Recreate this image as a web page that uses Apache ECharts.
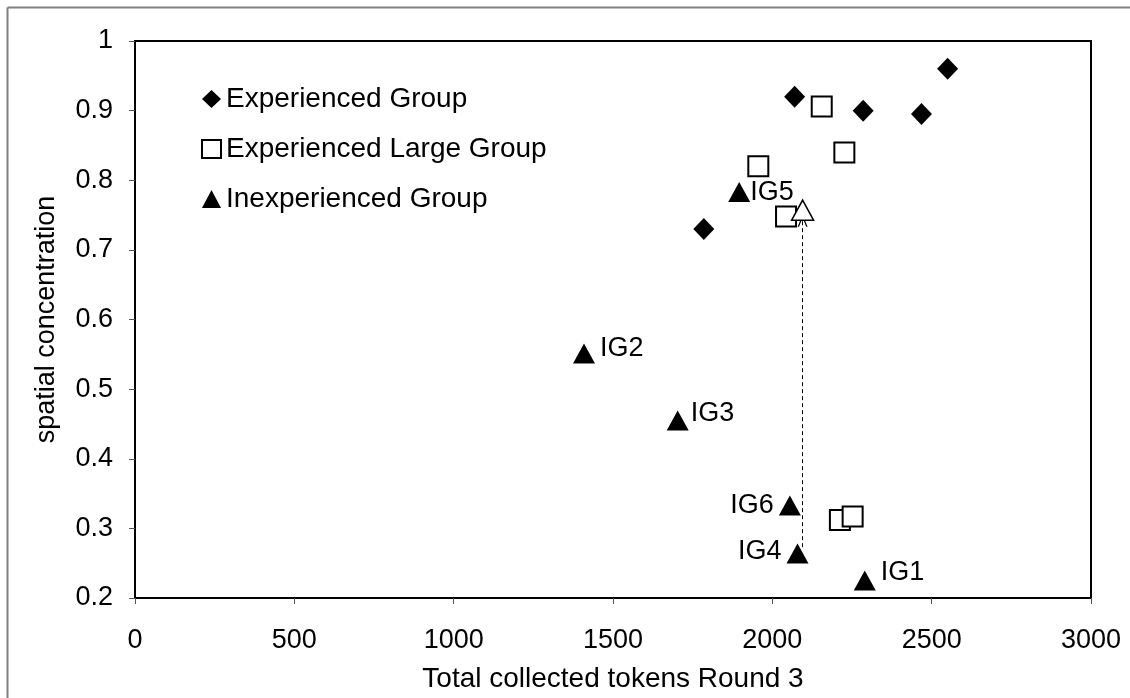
<!DOCTYPE html>
<html>
<head>
<meta charset="utf-8">
<script src="https://cdn.jsdelivr.net/npm/echarts@6/dist/echarts.min.js"></script>
<style>
html,body{margin:0;padding:0;background:#fff;}
#chart{width:1130px;height:698px;}
</style>
</head>
<body>
<div id="chart"></div>
<script>
// ---- data ----
const expX = [1785, 2070, 2285, 2468, 2550];
const expY = [0.73, 0.92, 0.90, 0.895, 0.96];
const largeX = [1956, 2043, 2155, 2226, 2212, 2252];
const largeY = [0.82, 0.748, 0.906, 0.84, 0.312, 0.317];
const inexpNames = ['IG1', 'IG2', 'IG3', 'IG4', 'IG5', 'IG6'];
const inexpX = [2290, 1409, 1703, 2079, 1896, 2055];
const inexpY = [0.225, 0.551, 0.455, 0.264, 0.783, 0.333];
const openTriX = [2095];
const openTriY = [0.757];
const arrowX = [2095, 2095];
const arrowY = [0.273, 0.742];
const seriesNames = ['Experienced Group', 'Experienced Large Group', 'Inexperienced Group'];
const xTitle = 'Total collected tokens Round 3';
const yTitle = 'spatial concentration';

// ---- label placement (style, not data) ----
const labelStyle = {
  IG1: {position: 'right', offset: [0, -8]},
  IG2: {position: 'right', offset: [0, -5]},
  IG3: {position: 'right', offset: [-3, -7]},
  IG4: {position: 'left', offset: [0, -2]},
  IG5: {position: 'right', offset: [-5, 0]},
  IG6: {position: 'left', offset: [0, 0]}
};

const FONT = 'Liberation Sans, Arial, sans-serif';
const zip = (xs, ys) => xs.map((x, i) => [x, ys[i]]);

const chart = echarts.init(document.getElementById('chart'), null, {renderer: 'canvas'});
chart.setOption({
  backgroundColor: '#fff',
  animation: false,
  grid: {left: 135, top: 41, right: 39, bottom: 100, show: true, borderColor: '#000', borderWidth: 2, backgroundColor: 'transparent'},
  legend: {
    orient: 'vertical', left: 196, top: 80, itemWidth: 19, itemHeight: 18, itemGap: 22,
    data: seriesNames,
    textStyle: {fontFamily: FONT, fontSize: 28, color: '#000', lineHeight: 28, padding: [0,0,0,0]},
    selectedMode: false
  },
  xAxis: {
    type: 'value', min: 0, max: 3000, interval: 500,
    name: xTitle, nameLocation: 'middle', nameGap: 67,
    nameTextStyle: {fontFamily: FONT, fontSize: 28, color: '#000'},
    axisLine: {show: true, lineStyle: {color: '#000', width: 2}},
    axisTick: {show: true, inside: false, length: 6, lineStyle: {color: '#555', width: 1}},
    axisLabel: {fontFamily: FONT, fontSize: 27, color: '#000', margin: 29, formatter: v => String(v)},
    splitLine: {show: false}
  },
  yAxis: {
    type: 'value', min: 0.2, max: 1, interval: 0.1,
    name: yTitle, nameLocation: 'middle', nameGap: 75, nameRotate: 90,
    nameTextStyle: {fontFamily: FONT, fontSize: 27, color: '#000'},
    axisLine: {show: true, lineStyle: {color: '#000', width: 2}},
    axisTick: {show: true, inside: false, length: 6, lineStyle: {color: '#555', width: 1}},
    axisLabel: {fontFamily: FONT, fontSize: 27, color: '#000', margin: 22,
      formatter: v => String(parseFloat(v.toFixed(1)))},
    splitLine: {show: false}
  },
  graphic: [
    {type: 'line', shape: {x1: 7.5, y1: 7.5, x2: 1130, y2: 7.5}, style: {stroke: '#808080', lineWidth: 2}, silent: true},
    {type: 'line', shape: {x1: 7.5, y1: 7.5, x2: 7.5, y2: 698}, style: {stroke: '#808080', lineWidth: 2}, silent: true}
  ],
  series: [
    {
      name: seriesNames[0], type: 'scatter', symbol: 'diamond', symbolSize: [21, 22],
      itemStyle: {color: '#000', opacity: 1}, data: zip(expX, expY), z: 3
    },
    {
      name: seriesNames[1], type: 'scatter', symbol: 'rect', symbolSize: [20, 20],
      itemStyle: {color: '#fff', borderColor: '#000', borderWidth: 2, opacity: 1}, data: zip(largeX, largeY), z: 4
    },
    {
      name: seriesNames[2], type: 'scatter', symbol: 'triangle', symbolSize: [22, 20],
      itemStyle: {color: '#000', opacity: 1},
      data: inexpNames.map((n, i) => ({
        name: n, value: [inexpX[i], inexpY[i]],
        label: {show: true, formatter: n, position: labelStyle[n].position, offset: labelStyle[n].offset,
          distance: 5, fontFamily: FONT, fontSize: 27, color: '#000'}
      })),
      z: 5
    },
    {
      name: 'open', type: 'scatter', symbol: 'triangle', symbolSize: [22, 20],
      itemStyle: {color: '#fff', borderColor: '#000', borderWidth: 1.5, opacity: 1},
      data: zip(openTriX, openTriY), z: 6,
      markLine: {
        silent: true, animation: false,
        symbol: ['none', 'path://M0,10 L5,0 L10,10 L8.6,10 L5,2.6 L1.4,10 Z'],
        symbolSize: [10, 12],
        label: {show: false},
        lineStyle: {color: '#000', type: [4, 3], width: 1},
        data: [[{coord: [arrowX[0], arrowY[0]]}, {coord: [arrowX[1], arrowY[1]]}]]
      }
    }
  ]
});
</script>
</body>
</html>
